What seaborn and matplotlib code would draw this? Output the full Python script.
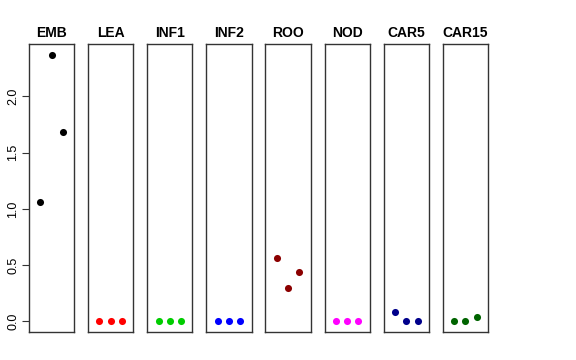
import pandas as pd
import numpy as np
import matplotlib
matplotlib.use('Agg')
import matplotlib.pyplot as plt
import seaborn as sns

sns.set_style('white')
plt.rcParams['font.family'] = ['Liberation Sans', 'DejaVu Sans']

# Datos por tejido (3 réplicas cada uno)
tejidos = ['EMB', 'LEA', 'INF1', 'INF2', 'ROO', 'NOD', 'CAR5', 'CAR15']
replica = [1, 2, 3]
valores = {
    'EMB': [1.06, 2.37, 1.68],
    'LEA': [0.0, 0.0, 0.0],
    'INF1': [0.0, 0.0, 0.0],
    'INF2': [0.0, 0.0, 0.0],
    'ROO': [0.56, 0.30, 0.44],
    'NOD': [0.0, 0.0, 0.0],
    'CAR5': [0.08, 0.0, 0.0],
    'CAR15': [0.0, 0.0, 0.04],
}
colores = ['black', '#FF0000', '#00CD00', '#0000FF', '#8B0000', '#FF00FF', '#00008B', '#006400']

fig, axes = plt.subplots(1, 8, figsize=(5.76, 3.6), dpi=100, sharey=True)
fig.subplots_adjust(left=29/576, right=488/576, bottom=1-332/360, top=1-44/360, wspace=0.31)

for ax, t, c in zip(axes, tejidos, colores):
    df = pd.DataFrame({'rep': replica, 'val': valores[t]})
    sns.scatterplot(data=df, x='rep', y='val', color=c, s=26, linewidth=0, ax=ax)
    ax.set_xlim(0, 4)
    ax.set_ylim(-0.095, 2.465)
    ax.set_title(t, fontsize=10, fontweight='bold', pad=5, color='black')
    ax.set_xlabel('')
    ax.set_ylabel('')
    ax.set_xticks([])
    for sp in ax.spines.values():
        sp.set_color('#333333')
        sp.set_linewidth(1.0)
    if ax is not axes[0]:
        ax.tick_params(axis='y', left=False, labelleft=False)

axes[0].set_yticks([0.0, 0.5, 1.0, 1.5, 2.0])
axes[0].set_yticklabels(['0.0', '0.5', '1.0', '1.5', '2.0'], rotation=90, va='center')
axes[0].tick_params(axis='y', left=True, length=5, width=0.8, color='#333333',
                    labelsize=9, labelcolor='black', pad=2)

fig.savefig('out.png', dpi=100)
